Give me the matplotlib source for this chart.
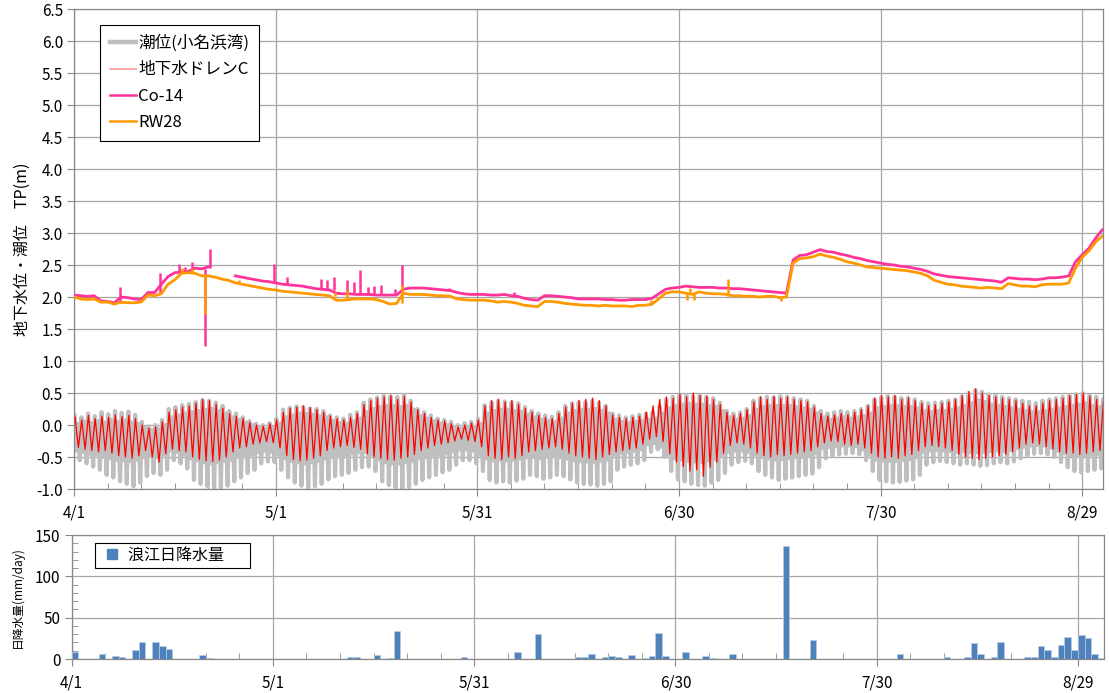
import numpy as np
import matplotlib
matplotlib.use("Agg")
import matplotlib.pyplot as plt
from matplotlib.lines import Line2D
from matplotlib.ticker import MultipleLocator, FormatStrFormatter

plt.rcParams['font.family'] = ['Noto Sans CJK JP', 'DejaVu Sans']

nan = np.nan

# 日付ラベル (4/1 を 0 日目とする)
tick_days = [0, 30, 60, 90, 120, 150]
tick_labels = ['4/1', '5/1', '5/31', '6/30', '7/30', '8/29']

# 潮位(小名浜湾) 日毎の高潮・低潮 (hi:高い方, hi2:低い方, lo:深い方, lo2:浅い方)
tide_hi = [0.15, 0.12, 0.18, 0.14, 0.20, 0.17, 0.22, 0.19, 0.21, 0.16,
           0.05, -0.02, 0.00, 0.08, 0.25, 0.28, 0.31, 0.33, 0.36, 0.39,
           0.38, 0.35, 0.30, 0.22, 0.18, 0.12, 0.06, 0.02, 0.00, 0.03,
           0.10, 0.24, 0.27, 0.29, 0.28, 0.26, 0.25, 0.22, 0.15, 0.12,
           0.10, 0.16, 0.20, 0.35, 0.40, 0.43, 0.46, 0.45, 0.44, 0.47,
           0.38, 0.25, 0.20, 0.15, 0.10, 0.08, 0.05, 0.00, 0.03, 0.05,
           0.10, 0.31, 0.36, 0.38, 0.37, 0.36, 0.34, 0.28, 0.22, 0.18,
           0.15, 0.13, 0.20, 0.30, 0.34, 0.36, 0.36, 0.38, 0.35, 0.30,
           0.18, 0.15, 0.12, 0.14, 0.16, 0.18, 0.20, 0.30, 0.40, 0.44,
           0.46, 0.47, 0.45, 0.46, 0.44, 0.42, 0.35, 0.22, 0.18, 0.20,
           0.25, 0.38, 0.42, 0.44, 0.43, 0.45, 0.44, 0.42, 0.40, 0.38,
           0.30, 0.22, 0.18, 0.20, 0.22, 0.20, 0.22, 0.25, 0.30, 0.40,
           0.43, 0.45, 0.44, 0.42, 0.43, 0.40, 0.36, 0.34, 0.35, 0.36,
           0.38, 0.40, 0.45, 0.50, 0.55, 0.52, 0.48, 0.46, 0.44, 0.42,
           0.40, 0.38, 0.36, 0.34, 0.38, 0.40, 0.42, 0.44, 0.46, 0.48,
           0.50, 0.46, 0.44, 0.40]
tide_hi2 = [0.02, 0.05, 0.03, 0.06, 0.04, 0.08, 0.05, 0.07, 0.04, 0.02,
            -0.04, -0.08, -0.06, 0.00, 0.12, 0.15, 0.18, 0.20, 0.22, 0.24,
            0.25, 0.22, 0.18, 0.12, 0.08, 0.04, 0.00, -0.04, -0.06, -0.04,
            0.02, 0.12, 0.15, 0.18, 0.17, 0.16, 0.14, 0.12, 0.06, 0.03,
            0.02, 0.06, 0.10, 0.20, 0.25, 0.28, 0.30, 0.30, 0.28, 0.30,
            0.24, 0.14, 0.10, 0.06, 0.02, 0.00, -0.03, -0.06, -0.05, -0.03,
            0.02, 0.18, 0.22, 0.24, 0.24, 0.22, 0.20, 0.16, 0.12, 0.08,
            0.06, 0.05, 0.10, 0.18, 0.22, 0.24, 0.24, 0.25, 0.22, 0.18,
            0.08, 0.05, 0.03, 0.05, 0.06, 0.08, 0.10, 0.18, 0.26, 0.30,
            0.32, 0.33, 0.32, 0.32, 0.30, 0.28, 0.22, 0.12, 0.08, 0.10,
            0.14, 0.24, 0.28, 0.30, 0.30, 0.30, 0.30, 0.28, 0.26, 0.24,
            0.18, 0.12, 0.08, 0.10, 0.12, 0.10, 0.12, 0.14, 0.18, 0.26,
            0.28, 0.30, 0.30, 0.28, 0.28, 0.26, 0.22, 0.20, 0.22, 0.22,
            0.24, 0.26, 0.30, 0.34, 0.38, 0.36, 0.32, 0.30, 0.28, 0.26,
            0.24, 0.22, 0.20, 0.20, 0.22, 0.24, 0.26, 0.28, 0.30, 0.32,
            0.34, 0.30, 0.28, 0.26]
tide_lo = [-0.55, -0.60, -0.65, -0.70, -0.78, -0.82, -0.88, -0.92, -0.96, -0.90,
           -0.80, -0.75, -0.78, -0.70, -0.55, -0.60, -0.68, -0.86, -0.92, -0.96,
           -1.00, -0.98, -0.95, -0.88, -0.82, -0.75, -0.70, -0.60, -0.57, -0.58,
           -0.70, -0.82, -0.90, -0.95, -0.98, -0.96, -0.92, -0.85, -0.80, -0.78,
           -0.75, -0.70, -0.66, -0.65, -0.72, -0.88, -0.94, -0.98, -1.00, -0.97,
           -0.92, -0.86, -0.82, -0.78, -0.74, -0.70, -0.62, -0.55, -0.55, -0.60,
           -0.72, -0.86, -0.90, -0.88, -0.90, -0.87, -0.84, -0.78, -0.80, -0.84,
           -0.82, -0.78, -0.80, -0.85, -0.90, -0.92, -0.93, -0.95, -0.92, -0.88,
           -0.70, -0.65, -0.62, -0.60, -0.55, -0.42, -0.38, -0.50, -0.72, -0.85,
           -0.88, -0.92, -0.94, -0.95, -0.90, -0.86, -0.75, -0.62, -0.58, -0.56,
           -0.60, -0.72, -0.78, -0.82, -0.86, -0.84, -0.82, -0.80, -0.78, -0.76,
           -0.66, -0.52, -0.48, -0.46, -0.45, -0.44, -0.46, -0.55, -0.72, -0.86,
           -0.88, -0.90, -0.89, -0.87, -0.85, -0.78, -0.62, -0.58, -0.56, -0.58,
           -0.60, -0.62, -0.60, -0.62, -0.64, -0.63, -0.60, -0.58, -0.60, -0.57,
           -0.52, -0.48, -0.45, -0.44, -0.46, -0.50, -0.58, -0.66, -0.72, -0.74,
           -0.72, -0.70, -0.68, -0.66]
tide_lo2 = [-0.40, -0.42, -0.45, -0.46, -0.50, -0.52, -0.54, -0.55, -0.56, -0.54,
            -0.50, -0.48, -0.50, -0.46, -0.40, -0.42, -0.46, -0.52, -0.55, -0.58,
            -0.60, -0.58, -0.56, -0.54, -0.50, -0.48, -0.46, -0.42, -0.40, -0.42,
            -0.46, -0.52, -0.56, -0.58, -0.60, -0.58, -0.56, -0.52, -0.50, -0.48,
            -0.46, -0.44, -0.42, -0.42, -0.46, -0.54, -0.58, -0.60, -0.60, -0.58,
            -0.56, -0.52, -0.50, -0.48, -0.46, -0.44, -0.40, -0.38, -0.38, -0.40,
            -0.46, -0.52, -0.55, -0.54, -0.55, -0.54, -0.52, -0.50, -0.50, -0.52,
            -0.50, -0.48, -0.50, -0.52, -0.55, -0.56, -0.57, -0.58, -0.56, -0.54,
            -0.46, -0.44, -0.42, -0.40, -0.38, -0.30, -0.28, -0.34, -0.46, -0.52,
            -0.54, -0.56, -0.57, -0.58, -0.55, -0.53, -0.48, -0.42, -0.40, -0.40,
            -0.42, -0.46, -0.50, -0.52, -0.54, -0.53, -0.52, -0.50, -0.50, -0.48,
            -0.44, -0.36, -0.34, -0.33, -0.32, -0.32, -0.33, -0.38, -0.46, -0.54,
            -0.55, -0.56, -0.56, -0.54, -0.53, -0.50, -0.42, -0.40, -0.39, -0.40,
            -0.41, -0.42, -0.41, -0.42, -0.43, -0.42, -0.41, -0.40, -0.41, -0.39,
            -0.36, -0.34, -0.32, -0.31, -0.32, -0.35, -0.40, -0.44, -0.47, -0.48,
            -0.47, -0.46, -0.45, -0.44]

# 地下水ドレンC 日毎の高・低
drain_hi = [0.12, 0.08, 0.15, 0.10, 0.14, 0.12, 0.16, 0.13, 0.15, 0.10,
            0.00, -0.05, -0.03, 0.05, 0.20, 0.24, 0.28, 0.30, 0.34, 0.40,
            0.38, 0.32, 0.26, 0.18, 0.14, 0.10, 0.04, 0.00, -0.02, 0.02,
            0.08, 0.20, 0.26, 0.28, 0.30, 0.27, 0.24, 0.20, 0.14, 0.10,
            0.08, 0.12, 0.18, 0.32, 0.38, 0.42, 0.44, 0.46, 0.40, 0.45,
            0.36, 0.24, 0.18, 0.12, 0.08, 0.06, 0.02, -0.03, 0.00, 0.03,
            0.08, 0.30, 0.38, 0.40, 0.36, 0.38, 0.32, 0.26, 0.20, 0.15,
            0.12, 0.10, 0.18, 0.28, 0.34, 0.38, 0.40, 0.42, 0.38, 0.30,
            0.16, 0.12, 0.10, 0.12, 0.14, 0.20, 0.30, 0.40, 0.44, 0.42,
            0.48, 0.44, 0.50, 0.46, 0.45, 0.40, 0.32, 0.20, 0.15, 0.18,
            0.24, 0.36, 0.44, 0.40, 0.45, 0.42, 0.44, 0.40, 0.38, 0.36,
            0.28, 0.18, 0.14, 0.16, 0.18, 0.16, 0.20, 0.24, 0.30, 0.42,
            0.46, 0.44, 0.46, 0.40, 0.42, 0.38, 0.34, 0.30, 0.32, 0.34,
            0.36, 0.40, 0.46, 0.52, 0.56, 0.50, 0.46, 0.44, 0.42, 0.40,
            0.38, 0.34, 0.30, 0.30, 0.34, 0.38, 0.40, 0.42, 0.46, 0.48,
            0.50, 0.45, 0.40, 0.36]
drain_lo = [-0.35, -0.38, -0.40, -0.42, -0.40, -0.44, -0.48, -0.50, -0.52, -0.48,
            -0.40, -0.50, -0.58, -0.45, -0.38, -0.40, -0.42, -0.50, -0.54, -0.56,
            -0.57, -0.55, -0.50, -0.42, -0.36, -0.34, -0.30, -0.28, -0.26, -0.28,
            -0.36, -0.48, -0.54, -0.56, -0.55, -0.52, -0.48, -0.40, -0.36, -0.34,
            -0.32, -0.35, -0.38, -0.45, -0.50, -0.52, -0.54, -0.55, -0.52, -0.50,
            -0.46, -0.40, -0.36, -0.32, -0.30, -0.28, -0.25, -0.22, -0.24, -0.26,
            -0.34, -0.48, -0.52, -0.54, -0.50, -0.52, -0.48, -0.42, -0.40, -0.38,
            -0.36, -0.34, -0.38, -0.44, -0.48, -0.50, -0.52, -0.54, -0.50, -0.46,
            -0.42, -0.40, -0.38, -0.36, -0.30, -0.22, -0.18, -0.26, -0.45, -0.58,
            -0.65, -0.72, -0.70, -0.80, -0.66, -0.58, -0.44, -0.32, -0.28, -0.30,
            -0.36, -0.44, -0.48, -0.50, -0.46, -0.48, -0.46, -0.44, -0.42, -0.40,
            -0.34, -0.28, -0.25, -0.26, -0.30, -0.32, -0.30, -0.36, -0.44, -0.50,
            -0.52, -0.50, -0.52, -0.48, -0.46, -0.40, -0.34, -0.32, -0.34, -0.36,
            -0.40, -0.46, -0.50, -0.52, -0.54, -0.52, -0.50, -0.48, -0.46, -0.42,
            -0.36, -0.30, -0.28, -0.30, -0.34, -0.38, -0.42, -0.44, -0.44, -0.46,
            -0.44, -0.42, -0.40, -0.38]

# Co-14 日毎
co14 = [2.03, 2.02, 2.01, 2.02, 1.94, 1.93, 1.91, 2.00, 1.99, 1.97,
        1.96, 2.07, 2.07, 2.20, 2.32, 2.38, 2.39, 2.40, 2.45, 2.44,
        2.47, nan, nan, nan, 2.33, 2.31, 2.29, 2.27, 2.25, 2.24,
        2.22, 2.20, 2.19, 2.18, 2.17, 2.15, 2.13, 2.12, 2.11, 2.06,
        2.05, 2.05, 2.04, 2.04, 2.04, 2.03, 2.03, 2.03, 2.03, 2.12,
        2.14, 2.14, 2.14, 2.13, 2.12, 2.11, 2.10, 2.07, 2.05, 2.04,
        2.04, 2.04, 2.03, 2.03, 2.04, 2.02, 2.01, 1.98, 1.96, 1.95,
        2.02, 2.02, 2.01, 2.00, 1.99, 1.97, 1.97, 1.97, 1.97, 1.96,
        1.96, 1.95, 1.95, 1.96, 1.96, 1.96, 1.98, 2.05, 2.12, 2.14,
        2.15, 2.17, 2.16, 2.15, 2.15, 2.15, 2.14, 2.14, 2.13, 2.13,
        2.12, 2.11, 2.10, 2.09, 2.08, 2.07, 2.06, 2.58, 2.65, 2.66,
        2.70, 2.74, 2.71, 2.70, 2.67, 2.65, 2.62, 2.60, 2.57, 2.55,
        2.53, 2.51, 2.50, 2.48, 2.47, 2.45, 2.43, 2.40, 2.36, 2.34,
        2.32, 2.31, 2.30, 2.29, 2.28, 2.27, 2.26, 2.25, 2.23, 2.30,
        2.29, 2.28, 2.28, 2.27, 2.28, 2.30, 2.30, 2.31, 2.33, 2.55,
        2.66, 2.76, 2.92, 3.05]
co14_spike_day = [6.8, 12.8, 15.6, 16.5, 17.5, 19.5, 20.3, 29.8, 31.7, 36.8, 37.6,
                  38.7, 40.6, 41.7, 42.6, 43.7, 44.7, 45.7, 47.7, 48.8, 55.8, 65.5]
co14_spike_lo = [1.90, 2.07, 2.39, 2.39, 2.40, 1.24, 2.45, 2.24, 2.20, 2.13, 2.12,
                 2.11, 2.05, 2.05, 2.04, 2.04, 2.04, 2.03, 2.03, 2.03, 2.11, 2.02]
co14_spike_hi = [2.15, 2.37, 2.51, 2.47, 2.54, 2.44, 2.75, 2.52, 2.31, 2.28, 2.26,
                 2.31, 2.26, 2.23, 2.42, 2.16, 2.17, 2.19, 2.13, 2.50, 2.14, 2.08]

# RW28 日毎
rw28 = [2.00, 1.97, 1.96, 1.97, 1.92, 1.92, 1.89, 1.92, 1.91, 1.91,
        1.92, 2.03, 2.02, 2.05, 2.20, 2.27, 2.37, 2.38, 2.37, 2.33,
        2.33, 2.31, 2.28, 2.26, 2.22, 2.20, 2.18, 2.16, 2.14, 2.12,
        2.11, 2.09, 2.08, 2.07, 2.06, 2.05, 2.04, 2.03, 2.02, 1.95,
        1.95, 1.96, 1.97, 1.97, 1.97, 1.96, 1.93, 1.89, 1.90, 2.06,
        2.04, 2.04, 2.04, 2.03, 2.02, 2.02, 2.01, 1.97, 1.96, 1.95,
        1.95, 1.95, 1.94, 1.92, 1.93, 1.92, 1.90, 1.87, 1.86, 1.85,
        1.93, 1.93, 1.92, 1.90, 1.89, 1.88, 1.87, 1.87, 1.86, 1.87,
        1.86, 1.86, 1.86, 1.85, 1.87, 1.87, 1.89, 1.97, 2.06, 2.08,
        2.08, 2.06, 2.04, 2.08, 2.06, 2.05, 2.05, 2.04, 2.02, 2.02,
        2.01, 2.01, 2.00, 2.01, 2.01, 1.99, 2.00, 2.53, 2.60, 2.61,
        2.63, 2.67, 2.64, 2.62, 2.59, 2.55, 2.53, 2.50, 2.47, 2.46,
        2.45, 2.44, 2.43, 2.42, 2.41, 2.39, 2.37, 2.33, 2.26, 2.23,
        2.20, 2.19, 2.17, 2.16, 2.15, 2.14, 2.15, 2.14, 2.13, 2.21,
        2.19, 2.17, 2.17, 2.16, 2.19, 2.20, 2.20, 2.20, 2.22, 2.45,
        2.62, 2.72, 2.86, 2.95]
rw28_spike_day = [16.0, 17.6, 19.5, 24.6, 38.8, 40.6, 48.8, 85.8, 91.2, 91.7, 92.2, 97.3, 105.2]
rw28_spike_lo = [2.37, 2.38, 1.74, 2.22, 2.02, 1.95, 1.90, 1.87, 1.96, 2.06, 1.95, 2.01, 1.94]
rw28_spike_hi = [2.45, 2.45, 2.35, 2.26, 2.08, 2.11, 2.18, 1.95, 2.06, 2.14, 2.04, 2.28, 1.99]

# 浪江日降水量 (mm/day)
rain_days = [0, 4, 6, 7, 9, 10, 12, 13, 14, 19, 20, 41, 42, 45, 47, 48, 58, 66, 69,
             75, 76, 77, 79, 80, 81, 83, 85, 86, 87, 88, 91, 94, 95, 98, 106, 110,
             123, 130, 133, 134, 135, 137, 138, 142, 143, 144, 145, 146, 147, 148,
             149, 150, 151, 152, 153]
rain_mm = [8, 6, 4, 3, 11, 20, 21, 16, 12, 5, 1, 3, 2, 5, 1, 34, 3, 9, 30,
           2, 3, 6.5, 3, 4, 2.5, 5, 1, 4, 31, 3.5, 9, 4, 1.5, 6.5, 137, 23,
           6.5, 2, 2, 19, 6.5, 2, 20.5, 2.5, 3, 16, 10.5, 2.5, 17, 27,
           11, 28.5, 25, 6.5, 1]

days = np.arange(len(co14))
t_tide = np.column_stack([days + 0.1, days + 0.35, days + 0.6, days + 0.85]).ravel()
tide = np.column_stack([tide_hi, tide_lo2, tide_hi2, tide_lo]).ravel()
t_drain = np.column_stack([days + 0.15, days + 0.65]).ravel()
drain = np.column_stack([drain_hi, drain_lo]).ravel()

W, H = 1109, 693
fig = plt.figure(figsize=(W / 100, H / 100), dpi=100)
ax = fig.add_axes([74 / W, 1 - 489 / H, (1103 - 74) / W, 480 / H])
ax2 = fig.add_axes([71.7 / W, 1 - 659 / H, (1104 - 71.7) / W, 124 / H])

grid_c = '#A6A6A6'
spine_c = '#888888'

# 上段: 水位
ax.plot(t_tide, tide, color='#BFBFBF', lw=3.0, zorder=2)
ax.plot(t_drain, drain, color='#FF0000', lw=0.9, zorder=3)
ax.plot(days, co14, color='#FF3399', lw=2.0, zorder=4)
ax.vlines(co14_spike_day, co14_spike_lo, co14_spike_hi, color='#FF3399', lw=1.8, zorder=4)
ax.plot(days, rw28, color='#FF9900', lw=2.0, zorder=5)
ax.vlines(rw28_spike_day, rw28_spike_lo, rw28_spike_hi, color='#FF9900', lw=1.8, zorder=5)

ax.set_xlim(0, 153.1)
ax.set_ylim(-1.0, 6.5)
ax.yaxis.set_major_locator(MultipleLocator(0.5))
ax.yaxis.set_major_formatter(FormatStrFormatter('%.1f'))
ax.set_ylabel('地下水位・潮位　TP(m)', fontsize=11.5, labelpad=4)

# 下段: 降水量
ax2.bar(rain_days, rain_mm, width=1.0, align='edge', color='#4F81BD',
        edgecolor='#B9CDE5', lw=0.5, zorder=3)
ax2.set_xlim(0, 153.9)
ax2.set_ylim(0, 150)
ax2.yaxis.set_major_locator(MultipleLocator(50))
ax2.yaxis.set_minor_locator(MultipleLocator(10))
ax2.set_ylabel('日降水量(mm/day)', fontsize=8.5, labelpad=8)

for a in (ax, ax2):
    a.set_xticks(tick_days)
    a.set_xticklabels(tick_labels)
    a.xaxis.set_minor_locator(MultipleLocator(5))
    a.grid(True, which='major', color=grid_c, lw=0.9, zorder=0)
    a.set_axisbelow(True)
    a.tick_params(axis='both', which='major', direction='out', length=5,
                  color=spine_c, labelsize=11, pad=3)
    a.tick_params(axis='x', which='major', pad=6)
    a.tick_params(axis='both', which='minor', direction='in', length=4, color=spine_c)
    for s in a.spines.values():
        s.set_color(spine_c)
        s.set_linewidth(0.9)

handles = [Line2D([], [], color='#BFBFBF', lw=3.2),
           Line2D([], [], color='#FF9999', lw=1.2),
           Line2D([], [], color='#FF3399', lw=1.8),
           Line2D([], [], color='#FF9900', lw=1.8)]
labels = ['潮位(小名浜湾)', '地下水ドレンC', 'Co-14', 'RW28']
leg = ax.legend(handles, labels, loc='upper left', bbox_to_anchor=(0.025, 0.967),
                fontsize=12, frameon=True, fancybox=False, edgecolor='black',
                framealpha=1, labelspacing=0.55, handlelength=1.6,
                handletextpad=0.1, borderpad=0.6, borderaxespad=0)
leg.get_frame().set_linewidth(0.8)

rain_handle = Line2D([], [], ls='none', marker='s', ms=7, color='#4F81BD')
leg2 = ax2.legend([rain_handle], ['浪江日降水量      '], loc='upper left',
                  bbox_to_anchor=(0.0226, 0.935), fontsize=11.5, frameon=True,
                  fancybox=False, edgecolor='black', framealpha=1,
                  handlelength=1.6, handletextpad=0.2,
                  borderpad=0.25, borderaxespad=0)
leg2.get_frame().set_linewidth(0.8)

fig.savefig('out.png', dpi=100)
